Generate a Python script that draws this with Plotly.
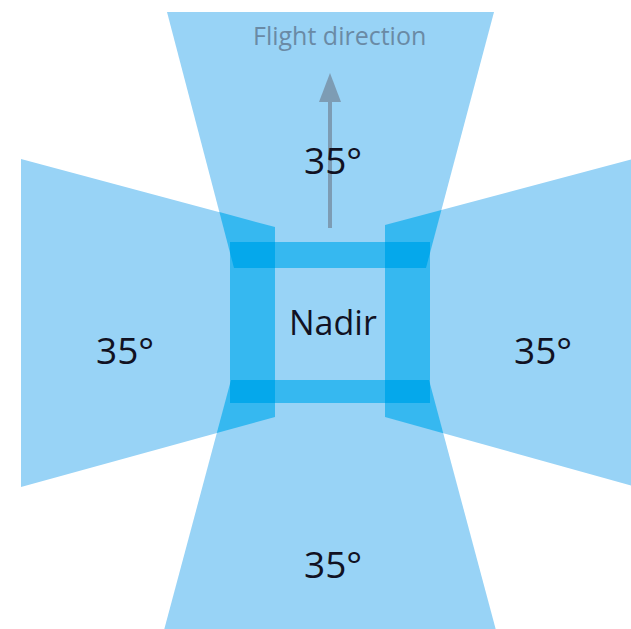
import plotly.graph_objects as go

# Footprint polygons (pixel-like diagram coordinates, y down)
top_fp = [(167, 12), (494, 12), (426, 268), (234, 268)]
bottom_fp = [(231, 380), (429, 380), (497, 634), (163, 634)]
left_fp = [(21, 159), (275, 227), (275, 417), (21, 487)]
right_fp = [(385, 225), (640, 157), (640, 488), (385, 417)]
nadir_fp = [(230, 242), (430, 242), (430, 403), (230, 403)]

labels = ["Flight direction", "35°", "35°", "35°", "35°", "Nadir"]
label_x = [339, 333, 125, 543, 333, 333]
label_y = [35, 159, 349, 349, 563, 322]
label_size = [25, 37, 37, 37, 37, 34]

arrow_x = [330, 330]
arrow_y = [228, 98]
head_x = [319, 341, 330]
head_y = [102, 102, 73]

C1 = "#98d3f6"
C2 = "#36b8f0"
C3 = "#05a8eb"


def clip(subject, clipper):
    def inside(p, a, b):
        return (b[0] - a[0]) * (p[1] - a[1]) - (b[1] - a[1]) * (p[0] - a[0]) >= 0

    def inter(p1, p2, a, b):
        x1, y1 = p1; x2, y2 = p2; x3, y3 = a; x4, y4 = b
        den = (x1 - x2) * (y3 - y4) - (y1 - y2) * (x3 - x4)
        t = ((x1 - x3) * (y3 - y4) - (y1 - y3) * (x3 - x4)) / den
        return (x1 + t * (x2 - x1), y1 + t * (y2 - y1))

    area = sum(clipper[i][0] * clipper[(i + 1) % len(clipper)][1] -
               clipper[(i + 1) % len(clipper)][0] * clipper[i][1] for i in range(len(clipper)))
    if area < 0:
        clipper = clipper[::-1]
    out = list(subject)
    for i in range(len(clipper)):
        a = clipper[i]; b = clipper[(i + 1) % len(clipper)]
        inp = out
        out = []
        if not inp:
            break
        s = inp[-1]
        for e in inp:
            if inside(e, a, b):
                if not inside(s, a, b):
                    out.append(inter(s, e, a, b))
                out.append(e)
            elif inside(s, a, b):
                out.append(inter(s, e, a, b))
            s = e
    return out


fig = go.Figure()


def poly(pts, color):
    if len(pts) < 3:
        return
    xs = [p[0] for p in pts] + [pts[0][0]]
    ys = [p[1] for p in pts] + [pts[0][1]]
    fig.add_trace(go.Scatter(x=xs, y=ys, fill="toself", fillcolor=color,
                             mode="lines", line=dict(width=0, color=color),
                             hoverinfo="skip", showlegend=False))


shapes = [top_fp, bottom_fp, left_fp, right_fp, nadir_fp]
for s in shapes:
    poly(s, C1)

pairs = [(top_fp, left_fp), (top_fp, right_fp), (bottom_fp, left_fp), (bottom_fp, right_fp),
         (nadir_fp, top_fp), (nadir_fp, bottom_fp), (nadir_fp, left_fp), (nadir_fp, right_fp)]
for a, b in pairs:
    poly(clip(a, b), C2)

triples = [(nadir_fp, top_fp, left_fp), (nadir_fp, top_fp, right_fp),
           (nadir_fp, bottom_fp, left_fp), (nadir_fp, bottom_fp, right_fp)]
for a, b, c in triples:
    p = clip(a, b)
    if len(p) >= 3:
        poly(clip(p, c), C3)

# arrow
fig.add_trace(go.Scatter(x=arrow_x, y=arrow_y, mode="lines",
                         line=dict(color="#7d9cb4", width=4),
                         hoverinfo="skip", showlegend=False))
poly(list(zip(head_x, head_y)), "#7d9cb4")

for i, t in enumerate(labels):
    if i == 0:
        font = dict(family="Open Sans", size=label_size[i], color="#6a8aa5")
    else:
        font = dict(family="Open Sans", size=label_size[i], color="#111122")
    fig.add_annotation(x=label_x[i], y=label_y[i], text=t, showarrow=False,
                       xanchor="center", yanchor="middle", font=font)

fig.update_layout(width=631, height=629, margin=dict(l=0, r=0, t=0, b=0),
                  paper_bgcolor="white", plot_bgcolor="white",
                  xaxis=dict(range=[0, 631], visible=False, fixedrange=True),
                  yaxis=dict(range=[629, 0], visible=False, fixedrange=True),
                  showlegend=False)

fig.write_html("out.html", config={"displayModeBar": False},
               post_script="document.body.style.margin='0';document.body.style.padding='0';"
                           "document.body.style.overflow='hidden';")
